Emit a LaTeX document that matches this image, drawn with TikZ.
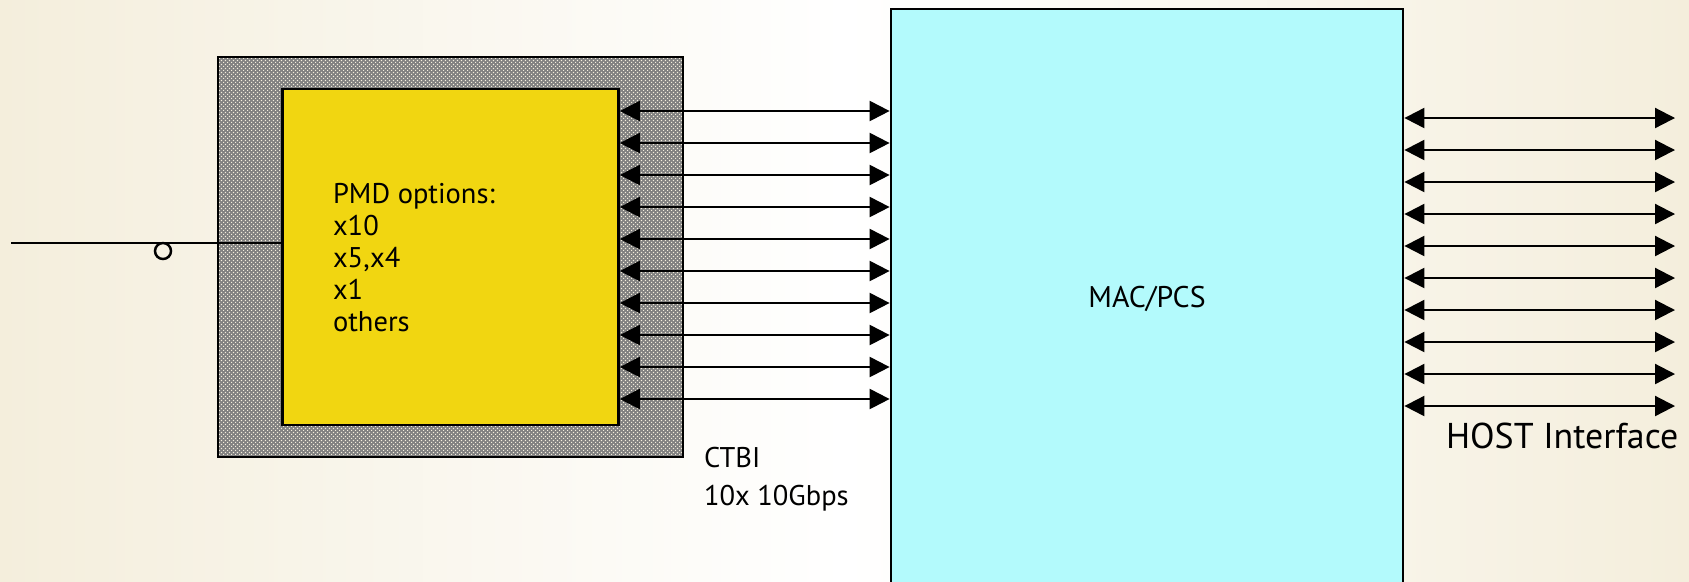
\documentclass[tikz,border=0pt]{standalone}
\usepackage{fontspec}
\setmainfont{PT Sans}
\usetikzlibrary{arrows.meta,patterns.meta}
\definecolor{fondo}{RGB}{244,238,220}
\definecolor{amarillo}{RGB}{241,214,17}
\definecolor{cian}{RGB}{179,250,252}
\definecolor{trama}{RGB}{128,128,128}
% trama fina del modulo
\tikzdeclarepattern{
  name=tramafina,
  type=uncolored,
  bounding box={(0pt,0pt) and (1.2pt,1.2pt)},
  tile size={(1.2pt,1.2pt)},
  code={\fill (0pt,0pt) rectangle (0.42pt,0.42pt);
        \fill (0.6pt,0.6pt) rectangle (1.02pt,1.02pt);}
}

\begin{document}
\begin{tikzpicture}[x=0.01cm,y=-0.01cm,line width=0.6pt,>={Triangle[length=2mm,width=2mm]},
  caja/.style={draw,rectangle,inner sep=0pt,line width=0.7pt},
  texto/.style={font=\fontsize{8.1}{9.1}\selectfont,align=left,inner sep=0pt}]
  \useasboundingbox (0,0) rectangle (1689,581);
  % fondo
  \shade[left color=fondo,right color=fondo,middle color=white] (0,0) rectangle (1689,581);
  % modulo optico y opciones pmd
  \node[caja,minimum width=4.65cm,minimum height=4cm,preaction={fill=trama},pattern=tramafina,pattern color=fondo] (modulo) at (450.5,257) {};
  \node[caja,fill=amarillo,minimum width=3.36cm,minimum height=3.36cm] (pmd) at (modulo.center) {};
  \node[texto,anchor=north west] (opciones) at (332,182) {PMD options:\\x10\\x5,x4\\x1\\others};
  % bloque mac/pcs
  \node[caja,fill=cian,minimum width=5.12cm,minimum height=5.76cm,text depth=0pt,font=\fontsize{8.5}{10}\selectfont] (mac) at (1147,297) {MAC/PCS};
  % enlaces ctbi
  \foreach \y in {111,143,...,399}
    \draw[<->] (pmd.east |- 0,\y) -- (mac.west |- 0,\y);
  \node[texto,anchor=north west,font=\fontsize{8.1}{10.8}\selectfont] (ctbi) at (703,446) {CTBI\\10x 10Gbps};
  % interfaz host
  \coordinate (hostfin) at (1675,0);
  \foreach \y in {118,150,...,406}
    \draw[<->] (mac.east |- 0,\y) -- (hostfin |- 0,\y);
  \node[font=\fontsize{10.2}{12}\selectfont,anchor=base west,inner sep=0pt] (host) at (1445,448) {HOST Interface};
  % fibra de entrada
  \coordinate (fibra) at (11,243);
  \draw (fibra) -- (pmd.west |- fibra);
  \node[circle,draw,minimum size=0.16cm,inner sep=0pt,line width=0.7pt] (conector) at (163,251) {};
\end{tikzpicture}
\end{document}
